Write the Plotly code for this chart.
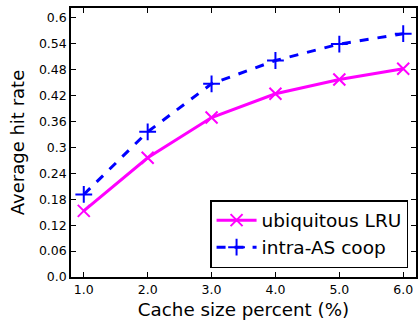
import plotly.graph_objects as go

cache_pct = [1.0, 2.0, 3.0, 4.0, 5.0, 6.0]
ubiquitous_lru = [0.153, 0.276, 0.369, 0.424, 0.457, 0.482]
intra_as_coop = [0.191, 0.336, 0.447, 0.501, 0.539, 0.563]
y_ticks = [0.0, 0.06, 0.12, 0.18, 0.24, 0.3, 0.36, 0.42, 0.48, 0.54, 0.6]
y_labels = ["0.0", "0.06", "0.12", "0.18", "0.24", "0.3", "0.36", "0.42", "0.48", "0.54", "0.6"]
x_labels = ["1.0", "2.0", "3.0", "4.0", "5.0", "6.0"]

fig = go.Figure()
fig.add_trace(go.Scatter(
    x=cache_pct, y=ubiquitous_lru, name="ubiquitous LRU", mode="lines+markers",
    line=dict(color="#FF00FF", width=3),
    marker=dict(symbol="x-thin", size=12, line=dict(color="#FF00FF", width=2)),
))
fig.add_trace(go.Scatter(
    x=cache_pct, y=intra_as_coop, name="intra-AS coop", mode="lines+markers",
    line=dict(color="#0000FF", width=3, dash="dash"),
    marker=dict(symbol="cross-thin", size=12, line=dict(color="#0000FF", width=2)),
))

axis_common = dict(
    showgrid=False, zeroline=False, showline=True, linecolor="black", linewidth=1.5,
    mirror="ticks", ticks="inside", ticklen=5, tickwidth=1, tickcolor="black",
    tickfont=dict(family="DejaVu Sans", size=12.5, color="black"),
)
fig.update_xaxes(range=[0.8, 6.2], tickvals=cache_pct, ticktext=x_labels,
                 title=dict(text="Cache size percent (%)", font=dict(family="DejaVu Sans", size=18.3, color="black"), standoff=7),
                 **axis_common)
fig.update_yaxes(range=[0.0, 0.6225], tickvals=y_ticks, ticktext=y_labels,
                 title=dict(text="Average hit rate", font=dict(family="DejaVu Sans", size=18, color="black"), standoff=10),
                 **axis_common)

fig.update_layout(
    width=420, height=320, margin=dict(l=71, r=2, t=8, b=43),
    plot_bgcolor="white", paper_bgcolor="white",
    font=dict(family="DejaVu Sans", color="black"),
    legend=dict(x=0.977, y=0.033, xanchor="right", yanchor="bottom",
                bordercolor="black", borderwidth=1.5, bgcolor="white",
                font=dict(family="DejaVu Sans", size=18.5, color="black"),
                itemwidth=40, tracegroupgap=0),
)
fig.write_html("out.html")
